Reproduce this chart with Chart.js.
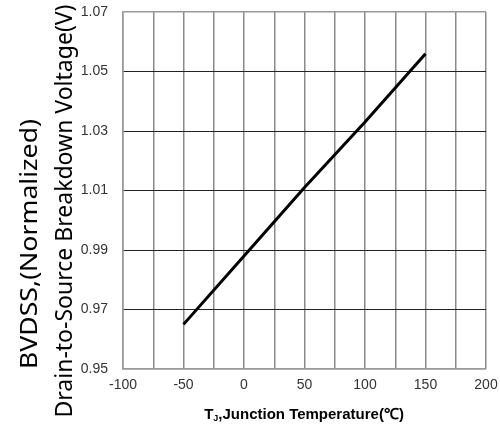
<!DOCTYPE html>
<html>
<head>
<meta charset="utf-8">
<script src="https://cdn.jsdelivr.net/npm/chart.js@4"></script>
<style>
  html, body { margin: 0; padding: 0; background: #fff; }
  #wrap { width: 500px; height: 428px; }
</style>
</head>
<body>
<div id="wrap"><canvas id="grafica" width="500" height="428"></canvas></div>
<script>
// datos
const temps = [-50, 0, 50, 100, 150];
const bvdss = [0.965, 0.988, 1.011, 1.033, 1.056];
const xTicks = [-100, -75, -50, -25, 0, 25, 50, 75, 100, 125, 150, 175, 200];
const yTicks = [0.95, 0.97, 0.99, 1.01, 1.03, 1.05, 1.07];
const yTitle = ["BVDSS,(Normalized)", "Drain-to-Source Breakdown Voltage(V)"];
const xTitle = ["T", "J", ",Junction Temperature(\u2103)"];

// texto girado, ajustado a un largo dado
function textoVertical(c, txt, x, y, largo) {
  c.save();
  c.translate(x, y);
  c.rotate(-Math.PI / 2);
  const w = c.measureText(txt).width;
  c.scale(largo / w, 1);
  c.fillText(txt, 0, 0);
  c.restore();
}

// titulos dibujados a mano
const titulos = {
  id: "titulos",
  afterDraw(chart) {
    const c = chart.ctx;
    c.save();
    c.fillStyle = "#000";
    c.textAlign = "center";
    c.textBaseline = "alphabetic";
    c.font = "24px 'Noto Sans'";
    textoVertical(c, yTitle[0], 37, 244, 250);
    textoVertical(c, yTitle[1], 72, 211, 413);

    // eje x con subindice
    c.textAlign = "left";
    const big = "bold 15px 'Liberation Sans'";
    const small = "bold 9px 'Liberation Sans'";
    c.font = big;
    const w1 = c.measureText(xTitle[0]).width;
    const w3 = c.measureText(xTitle[2]).width;
    c.font = small;
    const w2 = c.measureText(xTitle[1]).width;
    let x = 304 - (w1 + w2 + w3) / 2;
    const y = 419;
    c.font = big;
    c.fillText(xTitle[0], x, y);
    x += w1;
    c.font = small;
    c.fillText(xTitle[1], x, y + 2);
    x += w2;
    c.font = big;
    c.fillText(xTitle[2], x, y);
    c.restore();
  }
};

const ctx = document.getElementById("grafica").getContext("2d");
const chart = new Chart(ctx, {
  type: "line",
  data: {
    datasets: [{
      data: temps.map((t, i) => ({ x: t, y: bvdss[i] })),
      borderColor: "#000",
      borderWidth: 3,
      pointRadius: 0,
      tension: 0
    }]
  },
  options: {
    responsive: false,
    animation: false,
    layout: { padding: { top: 12, right: 14, left: 0, bottom: 0 } },
    plugins: { legend: { display: false }, tooltip: { enabled: false } },
    scales: {
      x: {
        type: "linear",
        min: -100,
        max: 200,
        afterBuildTicks: s => { s.ticks = xTicks.map(v => ({ value: v })); },
        afterFit: s => { s.height = 59; s.paddingLeft = 0; s.paddingRight = 0; },
        ticks: {
          autoSkip: false,
          maxRotation: 0,
          padding: 8,
          color: "#333",
          font: { family: "'Liberation Sans'", size: 14 },
          callback: v => (v % 50 === 0 ? String(v) : "")
        },
        grid: {
          drawTicks: false,
          color: "#8a8a8a",
          lineWidth: 1.5
        },
        border: { color: "#999", width: 1.5 }
      },
      y: {
        min: 0.95,
        max: 1.07,
        afterBuildTicks: s => { s.ticks = yTicks.map(v => ({ value: v })); },
        afterFit: s => { s.width = 123; s.paddingTop = 0; s.paddingBottom = 0; },
        ticks: {
          padding: 15,
          color: "#333",
          font: { family: "'Liberation Sans'", size: 14 },
          callback: v => v.toFixed(2)
        },
        grid: {
          drawTicks: false,
          color: c => (c.tick && (c.tick.value === 0.95 || c.tick.value === 1.07) ? "#999" : "#222"),
          lineWidth: c => (c.tick && (c.tick.value === 0.95 || c.tick.value === 1.07) ? 1.5 : 1)
        },
        border: { color: "#999", width: 1.5 }
      }
    }
  },
  plugins: [titulos]
});
</script>
</body>
</html>
